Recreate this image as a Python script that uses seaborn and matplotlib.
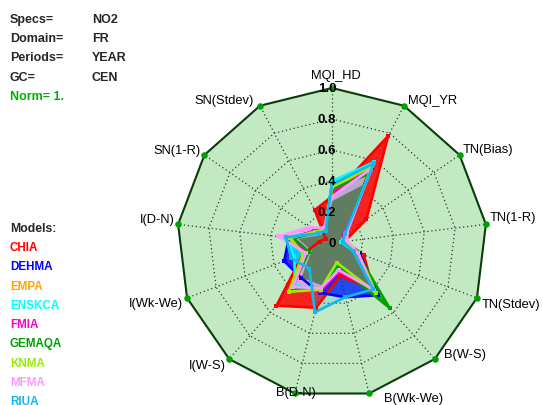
import numpy as np
import pandas as pd
import matplotlib
matplotlib.use("Agg")
import matplotlib.pyplot as plt
import seaborn as sns

# ---- data -------------------------------------------------------------
axes_names = ["MQI_HD", "MQI_YR", "TN(Bias)", "TN(1-R)", "TN(Stdev)", "B(W-S)",
              "B(Wk-We)", "B(D-N)", "I(W-S)", "I(Wk-We)", "I(D-N)", "SN(1-R)",
              "SN(Stdev)"]

models = ["CHIA", "DEHMA", "EMPA", "ENSKCA", "FMIA", "GEMAQA", "KNMA", "MFMA", "RIUA"]
model_colors = ["#ff0000", "#0000ff", "#ffa500", "#00ffff", "#ff00c8",
                "#00a000", "#99ee00", "#ff99ff", "#10b8f0"]
fill_alpha = [0.85, 0.8, 0.8, 0.8, 0.8, 0.8, 0.8, 0.8, 0.2]

chia   = [0.30, 0.78, 0.27, 0.08, 0.22, 0.40, 0.22, 0.43, 0.54, 0.20, 0.08, 0.05, 0.24]
dehma  = [0.38, 0.55, 0.12, 0.08, 0.19, 0.45, 0.36, 0.33, 0.30, 0.33, 0.28, 0.13, 0.10]
empa   = [0.36, 0.52, 0.10, 0.10, 0.17, 0.41, 0.18, 0.30, 0.38, 0.18, 0.28, 0.12, 0.10]
enskca = [0.40, 0.59, 0.10, 0.06, 0.15, 0.40, 0.17, 0.31, 0.36, 0.26, 0.30, 0.12, 0.09]
fmia   = [0.33, 0.54, 0.09, 0.08, 0.16, 0.40, 0.19, 0.32, 0.38, 0.17, 0.26, 0.14, 0.10]
gemaqa = [0.35, 0.50, 0.10, 0.08, 0.17, 0.56, 0.15, 0.30, 0.40, 0.16, 0.25, 0.12, 0.09]
knma   = [0.36, 0.56, 0.11, 0.09, 0.18, 0.43, 0.13, 0.31, 0.42, 0.20, 0.27, 0.13, 0.10]
mfma   = [0.30, 0.54, 0.12, 0.10, 0.18, 0.40, 0.18, 0.30, 0.38, 0.18, 0.35, 0.18, 0.11]
riua   = [0.38, 0.58, 0.10, 0.07, 0.15, 0.40, 0.36, 0.46, 0.22, 0.28, 0.30, 0.11, 0.09]
model_values = [chia, dehma, empa, enskca, fmia, gemaqa, knma, mfma, riua]

# area shared by all models
common = [0.27, 0.42, 0.08, 0.05, 0.14, 0.38, 0.13, 0.28, 0.30, 0.14, 0.22, 0.09, 0.08]

ring_levels = [0.2, 0.4, 0.6, 0.8]
ring_labels = ["0", "0.2", "0.4", "0.6", "0.8", "1.0"]

header_keys = ["Specs=", "Domain=", "Periods=", "GC="]
header_vals = ["NO2", "FR", "YEAR", "CEN"]
norm_text = "Norm= 1."

# ---- geometry ---------------------------------------------------------
W, H = 543, 406
CX, CY, R = 332, 244, 155          # centre and outer radius in pixels
n = len(axes_names)
theta = np.deg2rad(90 - np.arange(n) * 360.0 / n)


def to_xy(vals):
    v = np.asarray(vals, float)
    v = np.append(v, v[0])
    t = np.append(theta, theta[0])
    return v * np.cos(t), v * np.sin(t)


def px(x, y):
    return x / W, 1 - y / H


sns.set_style("white")
plt.rcParams["font.family"] = ["Liberation Sans", "DejaVu Sans"]

fig = plt.figure(figsize=(W / 100, H / 100), dpi=100)
ax = fig.add_axes([0, 0, 1, 1])
ax.set_xlim(-CX / R, (W - CX) / R)
ax.set_ylim(-(H - CY) / R, CY / R)
ax.axis("off")

# background polygon
ox, oy = to_xy(np.ones(n))
ax.fill(ox, oy, color="#c3e9c3", zorder=1)

# dotted rings and spokes
for lev in ring_levels:
    rx, ry = to_xy(np.full(n, lev))
    ax.plot(rx, ry, color="#333333", lw=0.9, ls=(0, (1, 2.2)), zorder=2)
for t in theta:
    ax.plot([0, np.cos(t)], [0, np.sin(t)], color="#333333", lw=0.9,
            ls=(0, (1, 2.2)), zorder=2)

# model fills
for vals, col, a in zip(model_values, model_colors, fill_alpha):
    x, y = to_xy(vals)
    ax.fill(x, y, color=col, alpha=a, lw=0, zorder=3)

cx_, cy_ = to_xy(common)
ax.fill(cx_, cy_, color="#587a58", alpha=0.92, lw=0, zorder=4)

# model outlines with markers
for name, vals, col in zip(models, model_values, model_colors):
    x, y = to_xy(vals)
    df = pd.DataFrame({"x": x, "y": y})
    sns.lineplot(data=df, x="x", y="y", sort=False, estimator=None, color=col,
                 lw=1.9, marker="s", markersize=3.4, markeredgewidth=0,
                 ax=ax, zorder=5)

# outer frame
sns.lineplot(x=ox, y=oy, sort=False, estimator=None, color="#0b3d0b", lw=1.5,
             ax=ax, zorder=6)
sns.scatterplot(x=ox[:-1], y=oy[:-1], color="#00a000", s=22, linewidth=0,
                ax=ax, zorder=7)

# ring labels along the top spoke
for i, lab in enumerate(ring_labels):
    r = i * 0.2
    xoff = 0 if i == 0 else -5 / R
    ax.text(xoff, r, lab, ha="center", va="center", fontsize=9.5,
            fontweight="bold", color="black", zorder=8)

# spoke labels
label_pos = [
    (336, 76, "center"), (408, 101, "left"), (463, 150, "left"),
    (490, 218, "left"), (482, 305, "left"), (444, 355, "left"),
    (384, 399, "left"), (296, 393, "center"), (226, 366, "right"),
    (183, 304, "right"), (175, 220, "right"), (201, 151, "right"),
    (254, 101, "right"),
]
for (lx, ly, ha), name in zip(label_pos, axes_names):
    fig.text(*px(lx, ly), name, ha=ha, va="center", fontsize=9.3, color="black",
             zorder=9)

# header block
for i, (k, v) in enumerate(zip(header_keys, header_vals)):
    y = 20 + i * 19.2
    fig.text(*px(10, y), k, ha="left", va="center", fontsize=9, fontweight="bold")
    fig.text(*px(92, y), v, ha="left", va="center", fontsize=9, fontweight="bold")
fig.text(*px(10, 97), norm_text, ha="left", va="center", fontsize=9,
         fontweight="bold", color="#00b000")

# model list
fig.text(*px(10, 229), "Models:", ha="left", va="center", fontsize=8.8,
         fontweight="bold")
for i, (name, col) in enumerate(zip(models, model_colors)):
    fig.text(*px(10, 248 + i * 19.3), name, ha="left", va="center", fontsize=8.4,
             fontweight="bold", color=col)

fig.savefig("out.png", dpi=100)
